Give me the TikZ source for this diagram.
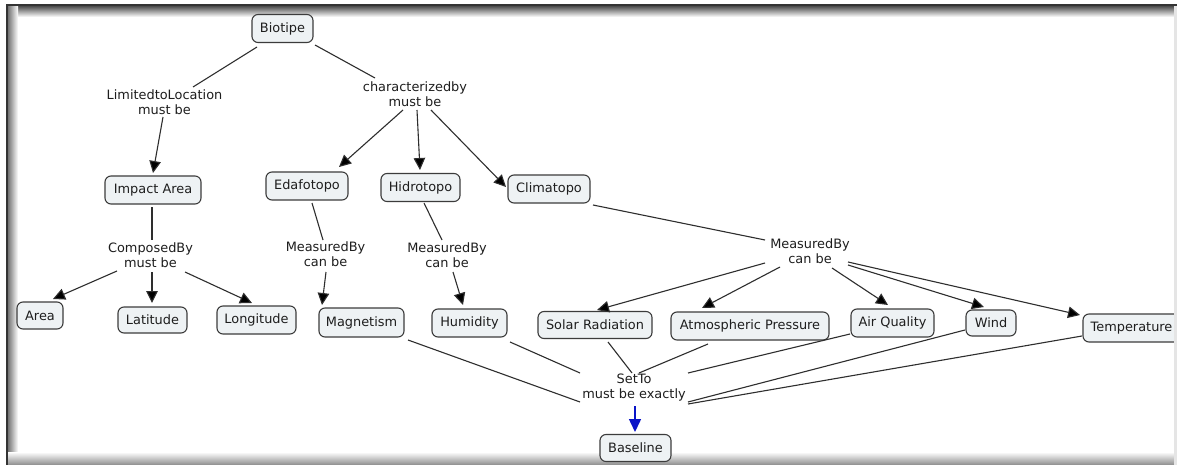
\documentclass[tikz,border=0pt]{standalone}
\usepackage{fontspec}
\setmainfont{DejaVu Sans}
\usetikzlibrary{arrows.meta}
\definecolor{boxfill}{HTML}{EEF2F4}
\definecolor{boxline}{HTML}{3C3C3C}
\definecolor{linkline}{HTML}{2E2E2E}
\definecolor{inkcol}{HTML}{1E1E1E}
\definecolor{bluelink}{HTML}{0A14C8}
\tikzset{
  concept/.style={draw=boxline, fill=boxfill, line width=1.1pt, rounded corners=6pt,
    minimum height=28pt, inner xsep=6pt, inner ysep=3pt, text=inkcol,
    font=\fontsize{12.9}{15}\selectfont},
  phrase/.style={align=center, inner sep=1pt, text=inkcol,
    font=\fontsize{12.9}{15}\selectfont},
  link/.style={draw=linkline, line width=1.1pt},
  arrowlink/.style={link, -{Triangle[length=12pt,width=11.5pt,fill=black]}},
  bluearrow/.style={draw=bluelink, line width=1.5pt, -{Triangle[length=13pt,width=12pt]}},
}
\newcommand{\at}[3]{([shift={(#2,#3)}]#1.center)}
\begin{document}
\begin{tikzpicture}[x=1pt,y=-1pt]
\useasboundingbox (0,0) rectangle (1177,465);
% window frame with its shadows
\fill[white] (0,0) rectangle (1177,465);
\shade[top color=black!70, bottom color=white] (6,6) rectangle (1177,17);
\shade[left color=black!65, right color=white] (6,6) rectangle (18,465);
\shade[top color=white, bottom color=black!45] (6,452) rectangle (1177,465);

% concepts
\node[concept, minimum width=61pt] (bio) at (282.5,28.5) {Biotipe};
\node[concept, minimum width=96pt] (imp) at (153,190) {Impact Area};
\node[concept, minimum width=82pt] (eda) at (307,186) {Edafotopo};
\node[concept, minimum width=79pt] (hid) at (420.5,187.5) {Hidrotopo};
\node[concept, minimum width=82pt] (cli) at (549,189) {Climatopo};
\node[concept, minimum width=46pt, minimum height=27pt] (area) at (40,315.5) {Area};
\node[concept, minimum width=69pt, minimum height=26pt] (lat) at (152.5,320) {Latitude};
\node[concept, minimum width=79pt] (lon) at (256.5,320) {Longitude};
\node[concept, minimum width=85pt, minimum height=29pt] (mag) at (361.5,322.5) {Magnetism};
\node[concept, minimum width=75pt] (hum) at (469.5,323) {Humidity};
\node[concept, minimum width=114pt, minimum height=27pt] (sol) at (595,325) {Solar Radiation};
\node[concept, minimum width=158pt] (atm) at (750,326) {Atmospheric Pressure};
\node[concept, minimum width=83pt] (air) at (892.5,323) {Air Quality};
\node[concept, minimum width=50pt, minimum height=26pt] (wind) at (991,323) {Wind};
\node[concept, minimum width=97pt] (temp) at (1131.5,328) {Temperature};
\node[concept, minimum width=71pt, minimum height=27pt] (base) at (635.5,448) {Baseline};

% linking phrases
\node[phrase] (lim) at (164.5,102.5) {LimitedtoLocation\\must be};
\node[phrase] (cha) at (415,94.5) {characterizedby\\must be};
\node[phrase] (com) at (150.5,255.5) {ComposedBy\\must be};
\node[phrase] (me1) at (325.5,254.5) {MeasuredBy\\can be};
\node[phrase] (me2) at (447,255.5) {MeasuredBy\\can be};
\node[phrase] (me3) at (810,251) {MeasuredBy\\can be};
\node[phrase] (set) at (634,387.5) {SetTo\\must be exactly};

% Biotipe branches
\draw[link] \at{bio}{-25.5}{18.5} -- \at{lim}{28.5}{-15.5};
\draw[link] \at{bio}{32.5}{16.5} -- \at{cha}{-40}{-16.5};
\draw[arrowlink] \at{lim}{-1.5}{14.5} -- \at{imp}{0}{-17};
\draw[arrowlink] \at{cha}{-12}{15.5} -- \at{eda}{32}{-19};
\draw[arrowlink] \at{cha}{2}{15.5} -- \at{hid}{-0.5}{-17.5};
\draw[arrowlink] \at{cha}{16}{15.5} -- \at{cli}{-43}{-2};

% Impact Area
\draw[link] \at{imp}{-1}{17} -- \at{com}{1.5}{-15.5};
\draw[arrowlink] \at{com}{-33.5}{15.5} -- \at{area}{13}{-16.5};
\draw[arrowlink] \at{com}{1.5}{16.5} -- \at{lat}{-0.5}{-17};
\draw[arrowlink] \at{com}{34.5}{16.5} -- \at{lon}{-4.5}{-17};

% Edafotopo and Hidrotopo
\draw[link] \at{eda}{5}{17} -- \at{me1}{-2.5}{-14.5};
\draw[arrowlink] \at{me1}{0.5}{17.5} -- \at{mag}{-39.5}{-17.5};
\draw[link] \at{hid}{3.5}{15.5} -- \at{me2}{-5}{-15.5};
\draw[arrowlink] \at{me2}{6}{16.5} -- \at{hum}{-6.5}{-18};

% Climatopo
\draw[link] \at{cli}{44}{16} -- \at{me3}{-45}{-11};
\draw[arrowlink] \at{me3}{-45}{12} -- \at{sol}{2}{-15};
\draw[arrowlink] \at{me3}{-30}{16} -- \at{atm}{-48}{-18};
\draw[arrowlink] \at{me3}{22}{17} -- \at{air}{-4.5}{-18};
\draw[arrowlink] \at{me3}{38}{14} -- \at{wind}{-7}{-16};
\draw[arrowlink] \at{me3}{38}{11} -- \at{temp}{-51.5}{-13};

% measurements set to the baseline
\draw[link] \at{mag}{46.5}{17.5} -- \at{set}{-54}{14.5};
\draw[link] \at{hum}{40.5}{19} -- \at{set}{-54}{-14.5};
\draw[link] \at{sol}{13}{17} -- \at{set}{-2}{-14.5};
\draw[link] \at{atm}{-42}{18} -- \at{set}{5}{-14.5};
\draw[link] \at{air}{-42.5}{11} -- \at{set}{54}{-14.5};
\draw[link] \at{wind}{-26}{7} -- \at{set}{54}{14.5};
\draw[link] \at{temp}{-49.5}{8} -- \at{set}{54}{16.5};
\draw[bluearrow] \at{set}{1}{18.5} -- \at{base}{-0.5}{-16};

% right edge strip and dark frame lines on top
\fill[black!10] (1174,6) rectangle (1177,465);
\draw[black!80, line width=2pt] (6,5.5) -- (1177,5.5);
\draw[black!80, line width=2pt] (6.5,5) -- (6.5,465);
\end{tikzpicture}
\end{document}
